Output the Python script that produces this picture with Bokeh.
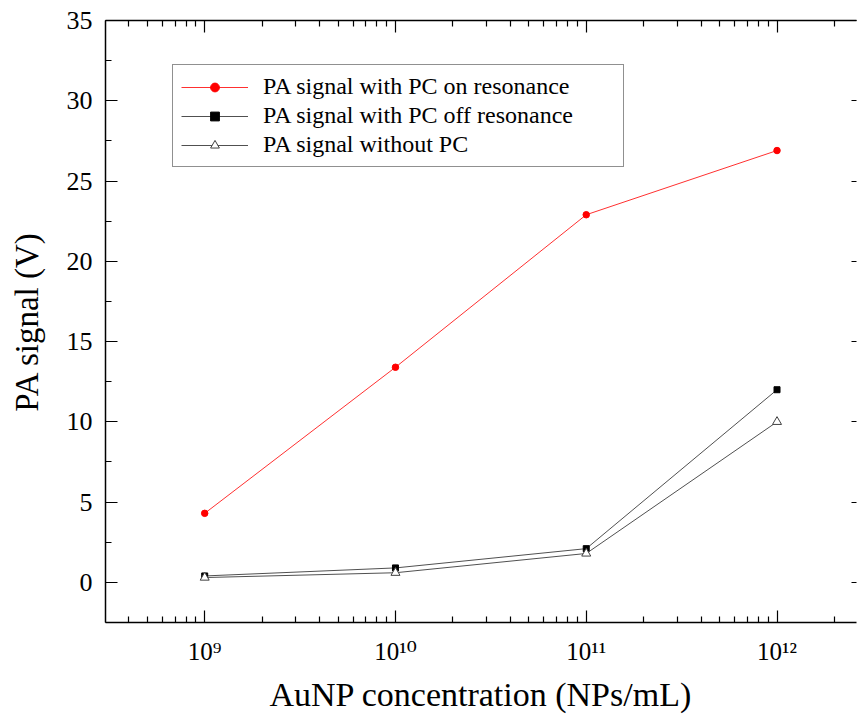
from bokeh.plotting import figure
from bokeh.models import (LogAxis, LinearAxis, FixedTicker, SingleIntervalTicker, Legend,
                          LegendItem, CustomJSTickFormatter, Range1d)
from bokeh.embed import file_html
from bokeh.resources import INLINE

# ---- data ----
concentration = [1e9, 1e10, 1e11, 1e12]          # AuNP concentration (NPs/mL)
pa_on_resonance = [4.3, 13.4, 22.9, 26.9]        # PA signal with PC on resonance (V)
pa_off_resonance = [0.4, 0.9, 2.1, 12.0]         # PA signal with PC off resonance (V)
pa_without_pc = [0.3, 0.6, 1.8, 10.0]            # PA signal without PC (V)
series_labels = ["PA signal with PC on resonance",
                 "PA signal with PC off resonance",
                 "PA signal without PC"]
x_major_ticks = [1e9, 1e10, 1e11, 1e12]
x_minor_ticks = [m * 10 ** e for e in range(8, 13) for m in range(2, 10)]
x_title = "AuNP concentration (NPs/mL)"
y_title = "PA signal (V)"

FONT = "Liberation Serif"
Y_START, Y_END = -2.5, 35

p = figure(width=860, height=717, x_axis_type="log",
           x_range=Range1d(3.02e8, 2.61e12), y_range=Range1d(Y_START, Y_END),
           output_backend="svg", toolbar_location=None,
           min_border_left=105, min_border_top=20, min_border_right=0,
           min_border_bottom=95)
p.outline_line_color = None
p.xgrid.visible = False
p.ygrid.visible = False
p.background_fill_color = "white"
p.border_fill_color = "white"

xticker = FixedTicker(ticks=x_major_ticks, minor_ticks=x_minor_ticks)
yticker = SingleIntervalTicker(interval=5, num_minor_ticks=2)
blank_fmt = CustomJSTickFormatter(code="return ' ';")
sup_fmt = CustomJSTickFormatter(code="""
const sup = {'0':'\u2070','1':'\u00b9','2':'\u00b2','3':'\u00b3','4':'\u2074',
             '5':'\u2075','6':'\u2076','7':'\u2077','8':'\u2078','9':'\u2079','-':'\u207b'};
const e = Math.round(Math.log10(tick));
return '10' + String(e).split('').map(c => sup[c]).join('');
""")

def style_axis(ax, show_labels):
    ax.axis_line_color = "black"
    ax.axis_line_width = 1.5
    ax.major_tick_line_color = "black"
    ax.minor_tick_line_color = "black"
    ax.major_tick_line_width = 1.2
    ax.minor_tick_line_width = 1.2
    ax.major_tick_in = 12
    ax.major_tick_out = 0
    ax.minor_tick_in = 6
    ax.minor_tick_out = 0
    if not show_labels:
        ax.formatter = blank_fmt
        ax.major_label_text_font_size = "2px"
        ax.major_label_standoff = 0

xa = p.xaxis[0]
xa.ticker = xticker
style_axis(xa, True)
xa.formatter = sup_fmt
xa.major_label_text_font = "Liberation Serif, DejaVu Serif"
xa.major_label_text_font_size = "25px"
xa.major_label_text_color = "black"
xa.major_label_standoff = 15
xa.axis_label = x_title
xa.axis_label_text_font = FONT
xa.axis_label_text_font_size = "34px"
xa.axis_label_text_font_style = "normal"
xa.axis_label_text_color = "black"
xa.axis_label_standoff = 8

ya = p.yaxis[0]
ya.ticker = yticker
style_axis(ya, True)
ya.major_label_text_font = FONT
ya.major_label_text_font_size = "26px"
ya.major_label_text_color = "black"
ya.major_label_standoff = 13
ya.axis_label = y_title
ya.axis_label_text_font = FONT
ya.axis_label_text_font_size = "33px"
ya.axis_label_text_font_style = "normal"
ya.axis_label_text_color = "black"
ya.axis_label_standoff = 19

top = LogAxis(ticker=xticker)
style_axis(top, False)
p.add_layout(top, "above")

right = LinearAxis(ticker=yticker)
style_axis(right, False)
right.axis_line_color = None
right.major_tick_in = 5
right.minor_tick_in = 0
p.add_layout(right, "right")

# ---- series ----
l1 = p.line(concentration, pa_on_resonance, line_color="#ff3030", line_width=1)
s1 = p.scatter(concentration, pa_on_resonance, marker="circle", size=6.5,
               fill_color="red", line_color="red")
l2 = p.line(concentration, pa_off_resonance, line_color="#505050", line_width=1)
s2 = p.scatter(concentration, pa_off_resonance, marker="square", size=6,
               fill_color="black", line_color="black")
l3 = p.line(concentration, pa_without_pc, line_color="#505050", line_width=1)
s3 = p.scatter(concentration, pa_without_pc, marker="triangle", size=9,
               fill_color="white", line_color="#404040")

legend = Legend(items=[LegendItem(label=series_labels[0], renderers=[l1, s1]),
                       LegendItem(label=series_labels[1], renderers=[l2, s2]),
                       LegendItem(label=series_labels[2], renderers=[l3, s3])],
                location=(67, 455))
legend.label_text_font = FONT
legend.label_text_font_size = "24px"
legend.label_text_color = "black"
legend.border_line_color = "#222222"
legend.border_line_width = 1
legend.background_fill_alpha = 1
legend.padding = 8
legend.spacing = 2
legend.label_height = 24
legend.glyph_height = 22
legend.glyph_width = 67
legend.label_width = 352
legend.label_standoff = 15
legend.margin = 0
p.add_layout(legend)

open("out.html", "w").write(file_html(p, INLINE))
